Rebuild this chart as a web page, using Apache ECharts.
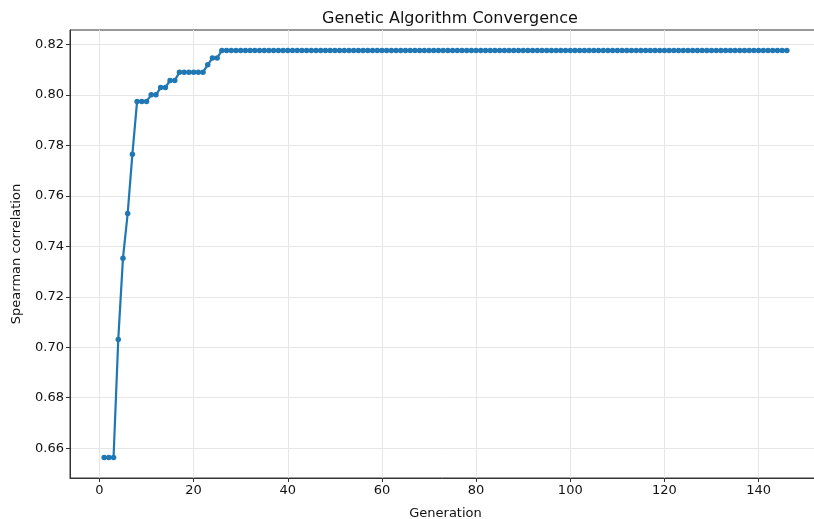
<!DOCTYPE html>
<html>
<head>
<meta charset="utf-8">
<script src="https://cdn.jsdelivr.net/npm/echarts@6/dist/echarts.min.js"></script>
<style>
  html, body { margin: 0; padding: 0; background: #fff; }
  #chart { width: 814px; height: 519px; }
</style>
</head>
<body>
<div id="chart"></div>
<script>
// best fitness per generation
const generations = [];
for (let g = 1; g <= 146; g++) generations.push(g);

const bestScore = [
  0.6563, 0.6563, 0.6563, 0.7031, 0.7353, 0.7530, 0.7765, 0.7974, 0.7974, 0.7974,
  0.8000, 0.8000, 0.8029, 0.8029, 0.8057, 0.8057, 0.8090, 0.8090, 0.8090, 0.8090,
  0.8090, 0.8090, 0.8119, 0.8146, 0.8146
];
// generations 26..146 stay on the plateau
while (bestScore.length < generations.length) bestScore.push(0.8176);

const xTicks = [0, 20, 40, 60, 80, 100, 120, 140];
const yTicks = [0.66, 0.68, 0.70, 0.72, 0.74, 0.76, 0.78, 0.80, 0.82];

const chart = echarts.init(document.getElementById('chart'), null, { renderer: 'canvas' });

const font = 'DejaVu Sans';
const axisColor = '#333';
const gridColor = '#e6e6e6';

const option = {
  animation: false,
  backgroundColor: '#fff',
  textStyle: { fontFamily: font },
  title: {
    text: 'Genetic Algorithm Convergence',
    left: 445,
    textAlign: 'center',
    top: 6,
    textStyle: { fontFamily: font, fontSize: 16, fontWeight: 'normal', color: '#111' }
  },
  grid: {
    left: 70,
    top: 30,
    width: 751,
    height: 448,
    outerBoundsMode: 'none',
    containLabel: false,
    show: true,
    borderColor: axisColor,
    borderWidth: 1,
    backgroundColor: 'transparent'
  },
  xAxis: {
    type: 'value',
    min: -6.25,
    max: 153.25,
    name: 'Generation',
    nameLocation: 'middle',
    nameGap: 29,
    nameTextStyle: { fontFamily: font, fontSize: 13, color: '#111' },
    axisLine: { show: true, onZero: false, lineStyle: { color: axisColor, width: 1 } },
    axisTick: { show: true, length: 4, customValues: xTicks, lineStyle: { color: axisColor } },
    axisLabel: { customValues: xTicks, fontFamily: font, fontSize: 13, color: '#111', margin: 6 },
    splitLine: { show: true, lineStyle: { color: gridColor, width: 1 } }
  },
  yAxis: {
    type: 'value',
    min: 0.6482,
    max: 0.8257,
    name: 'Spearman correlation',
    nameLocation: 'middle',
    nameGap: 47,
    nameTextStyle: { fontFamily: font, fontSize: 13, color: '#111' },
    axisLine: { show: true, onZero: false, lineStyle: { color: axisColor, width: 1 } },
    axisTick: { show: true, length: 4, customValues: yTicks, lineStyle: { color: axisColor } },
    axisLabel: {
      customValues: yTicks,
      fontFamily: font, fontSize: 13, color: '#111', margin: 6,
      formatter: v => v.toFixed(2)
    },
    splitLine: { show: true, lineStyle: { color: gridColor, width: 1 } }
  },
  series: [{
    type: 'line',
    data: generations.map((g, i) => [g, bestScore[i]]),
    symbol: 'circle',
    symbolSize: 5.5,
    showAllSymbol: true,
    lineStyle: { color: '#1f77b4', width: 2.2 },
    itemStyle: { color: '#1f77b4' }
  }]
};

chart.setOption(option);
</script>
</body>
</html>
